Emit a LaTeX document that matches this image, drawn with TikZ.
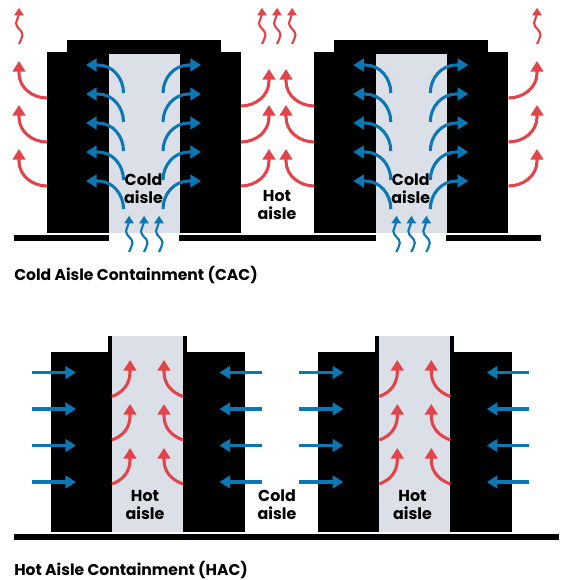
\documentclass[tikz,border=0pt]{standalone}
\usepackage{fontspec}
\setmainfont{Poppins}
\usetikzlibrary{arrows.meta}
\definecolor{coolblue}{HTML}{0A78B4}
\definecolor{hotred}{HTML}{E2444A}
\definecolor{aislegrey}{HTML}{DBDFE8}
\tikzset{
  rack/.style={fill=black},
  aisle/.style={fill=aislegrey},
  bigflow/.style={line width=2.3pt,-{Triangle[length=8pt,width=9.5pt]}},
  thinflow/.style={line width=1.6pt,-{Triangle[length=5.5pt,width=7pt]}},
  aislelabel/.style={font=\bfseries\fontsize{11.9}{13.5}\selectfont,align=center,inner sep=0pt},
  caption/.style={font=\bfseries\fontsize{11.7}{13}\selectfont,anchor=base west,inner sep=0pt}
}
\newcommand{\waveup}[3]{\draw[thinflow,#1] (#2,#3) to[out=75,in=-90] (#2+3.5,#3-9) to[out=90,in=-90] (#2-3,#3-21) to[out=90,in=-90] (#2,#3-30) -- (#2,#3-36);}
\begin{document}
\begin{tikzpicture}[x=0.75pt,y=-0.75pt]
  \useasboundingbox (0,0) rectangle (563,580);

  % cold aisle containment
  \foreach \dx in {0,267.3}{
    \begin{scope}[xshift=\dx*0.75pt]
      \fill[rack] (47,52) rectangle (241,233);
      \fill[rack] (66.7,40) rectangle (220.5,52);
      \fill[aisle] (108.5,54) rectangle (179.5,233);
      \foreach \y in {93,122,151,180,209}{
        \draw[bigflow,coolblue] (123.5,\y) to[out=90,in=0] (98,\y-28) -- (86,\y-28);
        \draw[bigflow,coolblue] (163,\y) to[out=90,in=180] (189,\y-28) -- (201,\y-28);
      }
      \foreach \x in {129,144,159}{ \waveup{coolblue}{\x}{252} }
    \end{scope}
  }
  \fill[rack] (14,235) rectangle (109,241);
  \fill[rack] (179,235) rectangle (376,241);
  \fill[rack] (446,235) rectangle (541,241);

  % hot air around the racks
  \foreach \y/\t in {98/61,142/105,186/149}{
    \draw[bigflow,hotred] (47,\y) to[out=180,in=-90] (19,\t+12) -- (19,\t);
    \draw[bigflow,hotred] (508.5,\y) to[out=0,in=-90] (537,\t+12) -- (537,\t);
  }
  \foreach \y/\t in {106/69,142/105,186/149}{
    \draw[bigflow,hotred] (241,\y) to[out=0,in=-90] (269,\t+12) -- (269,\t);
    \draw[bigflow,hotred] (314.3,\y) to[out=180,in=-90] (286,\t+12) -- (286,\t);
  }
  \foreach \x in {19,262,277,292,537}{ \waveup{hotred}{\x}{44} }

  % hot aisle containment
  \foreach \dx in {0,267.3}{
    \begin{scope}[xshift=\dx*0.75pt]
      \fill[rack] (50.5,351.7) rectangle (244.5,531.7);
      \fill[rack] (108,336) rectangle (187,352);
      \fill[aisle] (112,336) rectangle (183,532);
      \foreach \y in {372.5,409,445.5,482}{
        \draw[bigflow,coolblue] (32,\y) -- (76,\y);
        \draw[bigflow,coolblue] (262,\y) -- (219.5,\y);
      }
      \foreach \y/\t in {396.5/360,440/404,484/448}{
        \draw[bigflow,hotred] (112,\y) to[out=20,in=-90] (130,\t+12) -- (130,\t);
        \draw[bigflow,hotred] (183,\y) to[out=160,in=-90] (164,\t+12) -- (164,\t);
      }
    \end{scope}
  }
  \fill[rack] (14,534) rectangle (559,540);

  % labels
  \node[aislelabel] (coldA) at (143.5,189) {Cold\\aisle};
  \node[aislelabel] (coldB) at (410.8,189) {Cold\\aisle};
  \node[aislelabel] (hotmid) at (277,205) {Hot\\aisle};
  \node[aislelabel] (hotA) at (145,505) {Hot\\aisle};
  \node[aislelabel] (coldmid) at (277,505) {Cold\\aisle};
  \node[aislelabel] (hotB) at (412.5,505) {Hot\\aisle};
  \node[caption] (cac) at (14,281) {Cold Aisle Containment (CAC)};
  \node[caption] (hac) at (14,575) {Hot Aisle Containment (HAC)};
\end{tikzpicture}
\end{document}
